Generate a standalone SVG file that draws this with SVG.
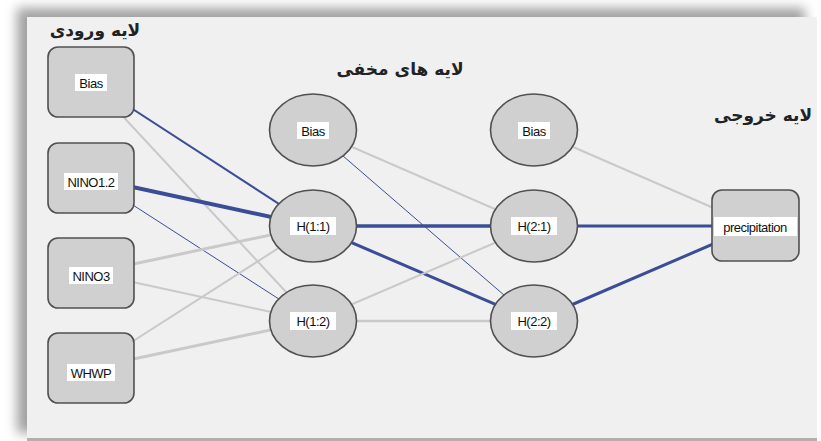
<svg xmlns="http://www.w3.org/2000/svg" width="821" height="441" viewBox="0 0 821 441">
<defs>
<filter id="sh" x="-10%" y="-10%" width="120%" height="120%"><feGaussianBlur stdDeviation="6"/></filter>
<style>
.node{fill:#d0d0d0;stroke:#505050;stroke-width:1.6}
.lbl{font-family:"Liberation Sans",Arial,sans-serif;font-size:13px;fill:#111;text-anchor:middle;dominant-baseline:central;letter-spacing:-0.5px}
.tb{fill:#ffffff}
.ttl{font-family:"DejaVu Sans","Noto Sans",sans-serif;font-size:17px;font-weight:bold;fill:#222;text-anchor:middle;direction:rtl}
.b{stroke:#3a4d96;fill:none;stroke-linecap:round}
.g{stroke:#c9c9c9;fill:none;stroke-linecap:round}
</style>
</defs>
<rect width="821" height="441" fill="#ffffff"/>
<rect x="17" y="8" width="788" height="425" fill="#a0a0a0" filter="url(#sh)"/>
<rect x="27" y="17" width="790" height="422" fill="#f0f0f0"/>
<rect x="27" y="438" width="790" height="3" fill="#b0b0b0"/>

<g id="titles">
<text class="ttl" x="95" y="36">لایه ورودی</text>
<text class="ttl" x="400" y="75">لایه های مخفی</text>
<text class="ttl" x="763" y="121">لایه خروجی</text>
</g>

<g id="connectors">
<line class="b" x1="91" y1="82" x2="313" y2="226" stroke-width="2"/>
<line class="g" x1="91" y1="82" x2="313" y2="321" stroke-width="2"/>
<line class="b" x1="91" y1="178" x2="313" y2="226" stroke-width="4"/>
<line class="b" x1="91" y1="178" x2="313" y2="321" stroke-width="1"/>
<line class="g" x1="91" y1="273" x2="313" y2="226" stroke-width="3"/>
<line class="g" x1="91" y1="273" x2="313" y2="321" stroke-width="2"/>
<line class="g" x1="91" y1="368" x2="313" y2="226" stroke-width="2"/>
<line class="g" x1="91" y1="368" x2="313" y2="321" stroke-width="3"/>
<line class="g" x1="313" y1="130" x2="534" y2="226" stroke-width="2"/>
<line class="b" x1="313" y1="130" x2="534" y2="321" stroke-width="1"/>
<line class="b" x1="313" y1="226" x2="534" y2="226" stroke-width="3.5"/>
<line class="b" x1="313" y1="226" x2="534" y2="321" stroke-width="3"/>
<line class="g" x1="313" y1="321" x2="534" y2="226" stroke-width="2"/>
<line class="g" x1="313" y1="321" x2="534" y2="321" stroke-width="2.5"/>
<line class="g" x1="534" y1="130" x2="755" y2="226" stroke-width="2"/>
<line class="b" x1="534" y1="226" x2="755" y2="226" stroke-width="3"/>
<line class="b" x1="534" y1="321" x2="755" y2="226" stroke-width="3"/>
</g>

<g id="in-bias"><rect class="node" x="48" y="47" width="86" height="70" rx="10"/><rect class="tb" x="75" y="74" width="32" height="17"/><text class="lbl" x="91" y="83">Bias</text></g>
<g id="in-nino12"><rect class="node" x="48" y="143" width="86" height="70" rx="10"/><rect class="tb" x="64" y="173" width="54" height="17"/><text class="lbl" x="91" y="182">NINO1.2</text></g>
<g id="in-nino3"><rect class="node" x="48" y="238" width="86" height="70" rx="10"/><rect class="tb" x="69" y="267" width="44" height="17"/><text class="lbl" x="91" y="276">NINO3</text></g>
<g id="in-whwp"><rect class="node" x="48" y="333" width="86" height="70" rx="10"/><rect class="tb" x="67" y="364" width="48" height="17"/><text class="lbl" x="91" y="373">WHWP</text></g>

<g id="h-bias1"><ellipse class="node" cx="313" cy="130" rx="43.5" ry="36"/><rect class="tb" x="297" y="122" width="32" height="17"/><text class="lbl" x="313" y="131">Bias</text></g>
<g id="h11"><ellipse class="node" cx="313" cy="226" rx="43.5" ry="36"/><rect class="tb" x="290" y="217" width="46" height="18"/><text class="lbl" x="313" y="226">H(1:1)</text></g>
<g id="h12"><ellipse class="node" cx="313" cy="321" rx="43.5" ry="36"/><rect class="tb" x="290" y="312" width="46" height="18"/><text class="lbl" x="313" y="321">H(1:2)</text></g>

<g id="h-bias2"><ellipse class="node" cx="534" cy="130" rx="43.5" ry="36"/><rect class="tb" x="518" y="122" width="32" height="17"/><text class="lbl" x="534" y="131">Bias</text></g>
<g id="h21"><ellipse class="node" cx="534" cy="226" rx="43.5" ry="36"/><rect class="tb" x="511" y="217" width="46" height="18"/><text class="lbl" x="534" y="226">H(2:1)</text></g>
<g id="h22"><ellipse class="node" cx="534" cy="321" rx="43.5" ry="36"/><rect class="tb" x="511" y="312" width="46" height="18"/><text class="lbl" x="534" y="321">H(2:2)</text></g>

<g id="out-precip"><rect class="node" x="712" y="190" width="87" height="71" rx="10"/><rect class="tb" x="714" y="217" width="83" height="19"/><text class="lbl" x="755" y="227">precipitation</text></g>
</svg>
